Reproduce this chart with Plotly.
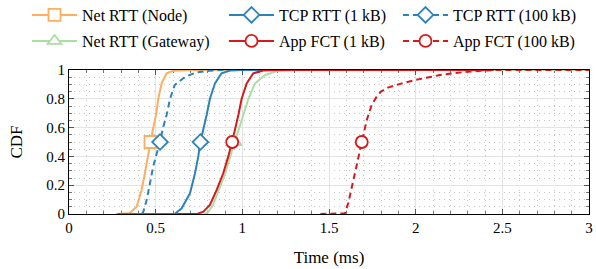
import numpy as np
import plotly.graph_objects as go

# ---- data ----
node_x = [0.27, 0.35, 0.39, 0.419, 0.438, 0.454, 0.467, 0.485, 0.502, 0.515, 0.535, 0.563, 0.60, 0.72, 1.0]
node_y = [0, 0.005, 0.05, 0.167, 0.283, 0.40, 0.48, 0.59, 0.6875, 0.80, 0.91, 0.977, 0.995, 1.0, 1.0]

tcp1_x = [0.28, 0.61, 0.65, 0.698, 0.727, 0.746, 0.756, 0.766, 0.794, 0.813, 0.842, 0.88, 0.929, 1.0, 1.43]
tcp1_y = [0, 0, 0.04, 0.144, 0.283, 0.40, 0.49, 0.537, 0.6875, 0.80, 0.907, 0.977, 0.997, 1.0, 1.0]

tcp100_x = [0.42, 0.429, 0.448, 0.467, 0.486, 0.506, 0.525, 0.545, 0.563, 0.583, 0.61, 0.67, 0.737, 0.81, 0.9, 1.43]
tcp100_y = [0, 0.016, 0.097, 0.213, 0.33, 0.42, 0.50, 0.61, 0.6875, 0.80, 0.896, 0.953, 0.984, 0.995, 1.0, 1.0]

gw_x = [0.78, 0.80, 0.83, 0.865, 0.902, 0.93, 0.95, 0.967, 1.006, 1.035, 1.073, 1.13, 1.198, 1.3, 3.0]
gw_y = [0, 0.01, 0.06, 0.167, 0.283, 0.40, 0.479, 0.537, 0.6875, 0.80, 0.907, 0.965, 0.993, 1.0, 1.0]

app1_x = [0.62, 0.74, 0.775, 0.813, 0.852, 0.89, 0.919, 0.938, 0.948, 0.977, 0.996, 1.025, 1.063, 1.12, 1.2, 2.45]
app1_y = [0, 0, 0.016, 0.0625, 0.167, 0.283, 0.40, 0.479, 0.537, 0.6875, 0.80, 0.907, 0.977, 0.997, 1.0, 1.0]

app100_x = [1.45, 1.58, 1.592, 1.612, 1.631, 1.66, 1.689, 1.718, 1.746, 1.775, 1.80, 1.84, 1.90, 1.996, 2.14, 2.295, 2.45, 3.0]
app100_y = [0, 0, 0.005, 0.08, 0.178, 0.34, 0.50, 0.653, 0.757, 0.815, 0.85, 0.878, 0.90, 0.93, 0.965, 0.988, 1.0, 1.0]

x_ticks = [0, 0.5, 1, 1.5, 2, 2.5, 3]
x_tick_labels = ["0", "0.5", "1", "1.5", "2", "2.5", "3"]
y_ticks = [0, 0.2, 0.4, 0.6, 0.8, 1]
y_tick_labels = ["0", "0.2", "0.4", "0.6", "0.8", "1"]

ORANGE = "#fdae61"
BLUE = "#2b83ba"
GREEN = "#abdda4"
RED = "#d7191c"
FONT = "Liberation Serif"

series = [
    # name, x, y, color, dash, symbol, legend id, legend pos (px from left, px from top)
    ("Net RTT (Node)", node_x, node_y, ORANGE, "solid", "square", "legend", (27, 15)),
    ("TCP RTT (1 kB)", tcp1_x, tcp1_y, BLUE, "solid", "diamond", "legend2", (224, 15)),
    ("TCP RTT (100 kB)", tcp100_x, tcp100_y, BLUE, "6px,4px", "diamond", "legend3", (398, 15)),
    ("Net RTT (Gateway)", gw_x, gw_y, GREEN, "solid", "triangle-up", "legend4", (27, 41)),
    ("App FCT (1 kB)", app1_x, app1_y, RED, "solid", "circle", "legend5", (224, 41)),
    ("App FCT (100 kB)", app100_x, app100_y, RED, "6px,4px", "circle", "legend6", (398, 41)),
]

W, H = 596, 269
fig = go.Figure()

# lines
for name, xs, ys, col, dash, sym, leg, pos in series:
    fig.add_trace(go.Scatter(x=xs, y=ys, mode="lines", showlegend=False,
                             line=dict(color=col, width=2, dash=dash),
                             hoverinfo="skip"))

# median markers (also legend entries)
for name, xs, ys, col, dash, sym, leg, pos in series:
    k = 1 if ys[0] == ys[1] else 0
    xm = float(np.interp(0.5, ys[k:], xs[k:]))
    fig.add_trace(go.Scatter(x=[xm], y=[0.5], mode="lines+markers", name=name,
                             legend=leg,
                             line=dict(color=col, width=2, dash=dash),
                             marker=dict(symbol=sym, size=12, color="white",
                                         line=dict(color=col, width=1.8)),
                             ))

legend_common = dict(
    orientation="h", xref="container", yref="container",
    xanchor="left", yanchor="middle", bgcolor="rgba(0,0,0,0)",
    borderwidth=0, font=dict(family=FONT, size=16, color="black"),
    itemwidth=45,
)
for name, xs, ys, col, dash, sym, leg, pos in series:
    fig.update_layout({leg: dict(legend_common, x=pos[0] / W, y=1 - pos[1] / H)})

axis_common = dict(
    showline=True, linecolor="black", linewidth=1, mirror="ticks",
    ticks="inside", ticklen=5, tickcolor="#555555", tickwidth=1,
    showgrid=True, gridcolor="#e3e3e3", gridwidth=1,
    zeroline=False, layer="below traces", automargin=False,
    tickfont=dict(family=FONT, size=15, color="black"),
)

fig.update_xaxes(axis_common, range=[0, 3], tickvals=x_ticks, ticktext=x_tick_labels,
                 title=dict(text="Time (ms)", font=dict(family=FONT, size=17, color="black"), standoff=16),
                 minor=dict(dtick=0.1, ticks="inside", ticklen=3, tickcolor="#777777",
                            showgrid=True, gridcolor="#c4c4c4", griddash="1px,4px", gridwidth=1))
fig.update_yaxes(axis_common, range=[0, 1], tickvals=y_ticks, ticktext=y_tick_labels,
                 title=dict(text="CDF", font=dict(family=FONT, size=17, color="black"), standoff=19),
                 minor=dict(dtick=0.05, ticks="inside", ticklen=3, tickcolor="#777777",
                            showgrid=True, gridcolor="#c4c4c4", griddash="1px,4px", gridwidth=1))

fig.update_layout(
    width=W, height=H,
    margin=dict(l=69, r=7, t=70, b=55, autoexpand=False),
    paper_bgcolor="white", plot_bgcolor="white",
    font=dict(family=FONT, size=15, color="black"),
)

fig.write_html("out.html", config={"displayModeBar": False},
               post_script="document.body.style.margin='0';")
